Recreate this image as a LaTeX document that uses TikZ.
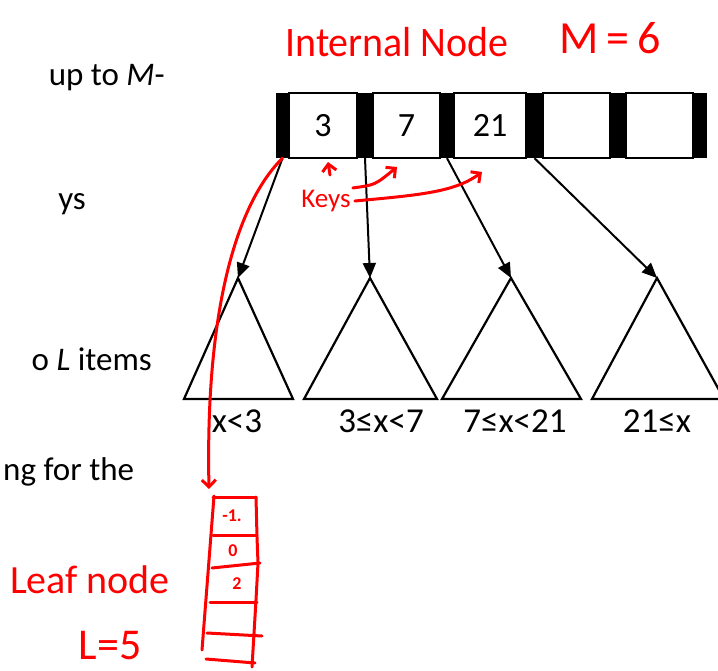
\documentclass[tikz,border=0pt]{standalone}
\usepackage{fontspec}
\setmainfont{Carlito}
\usetikzlibrary{arrows.meta}
\begin{document}
\begin{tikzpicture}[x=1pt,y=-1pt,
  barbox/.style={fill=black,inner sep=0pt,minimum height=65pt},
  cellbox/.style={draw=black,line width=1.5pt,inner sep=0pt,minimum height=65pt,font=\fontsize{34}{34}\selectfont},
  tri/.style={draw=black,line width=2.2pt,line join=miter},
  ptr/.style={-{Triangle[length=15pt,width=13pt]},line width=2pt},
  pen/.style={red,line width=3pt,line cap=round,line join=round},
  penarrow/.style={pen,-{Straight Barb[length=7pt,width=14pt,line width=3pt]}},
  lab/.style={font=\fontsize{35}{35}\selectfont,inner sep=0pt},
  slide/.style={font=\fontsize{33}{33}\selectfont,inner sep=0pt},
  hand/.style={red,inner sep=0pt},
]
\useasboundingbox (0,0) rectangle (718,671);
% slide text fragments
\node[slide,anchor=base east] (s1) at (165,86) {up to \textit{M}-};
\node[slide,anchor=base east] (s2) at (86,210) {ys};
\node[slide,anchor=base east] (s3) at (152,370) {o \textit{L} items};
\node[slide,anchor=base west] (s4) at (3,480) {ng for the};
% internal node
\node[cellbox,minimum width=68pt] (k1) at (323,125.5) {3};
\node[cellbox,minimum width=67pt] (k2) at (406.5,125.5) {7};
\node[cellbox,minimum width=72pt] (k3) at (490,125.5) {21};
\node[cellbox,minimum width=67pt] (k4) at (576.5,125.5) {};
\node[cellbox,minimum width=67pt] (k5) at (659.5,125.5) {};
\node[barbox,minimum width=13pt] (b1) at (282.5,125.5) {};
\node[barbox,minimum width=16pt] (b2) at (365,125.5) {};
\node[barbox,minimum width=14pt] (b3) at (447,125.5) {};
\node[barbox,minimum width=17pt] (b4) at (534.5,125.5) {};
\node[barbox,minimum width=16pt] (b5) at (618,125.5) {};
\node[barbox,minimum width=14pt] (b6) at (700,125.5) {};
% subtrees
\coordinate (t1) at (238,278);
\coordinate (t2) at (370,278);
\coordinate (t3) at (511,278);
\coordinate (t4) at (657,278);
\draw[tri] (t1) -- (184,399) -- (293,399) -- cycle;
\draw[tri] (t2) -- (304,399) -- (437,399) -- cycle;
\draw[tri] (t3) -- (442,399) -- (581,399) -- cycle;
\draw[tri] (t4) -- (592,399) -- (724,399) -- cycle;
\draw[ptr] (b1.south) -- (t1);
\draw[ptr] (b2.south) -- (t2);
\draw[ptr] (b3.south) -- (t3);
\draw[ptr] (b4.south) -- (t4);
\node[lab] (l1) at (237,421) {x<3};
\node[lab] (l2) at (381,421) {3≤x<7};
\node[lab] (l3) at (515,421) {7≤x<21};
\node[lab] (l4) at (657,421) {21≤x};
% red annotations
\node[hand,font=\fontsize{42}{42}\selectfont,xscale=0.95] (title) at (397,42) {Internal Node};
\node[hand,font=\fontsize{46}{46}\selectfont] (mval) at (610,38) {M\,=\,6};
\node[hand,font=\fontsize{27}{27}\selectfont] (keys) at (326,201) {Keys};
\coordinate (a1) at (328,162);
\coordinate (a2) at (397,167);
\coordinate (a3) at (482,172);
\draw[penarrow] (330,175) -- (a1);
\draw[penarrow] (keys.north east) ++(2,-2) .. controls (375,185) .. (a2);
\draw[penarrow] (keys.east) ++(4,0) .. controls (420,195) and (455,192) .. (a3);
% leaf node
\coordinate (lf) at (209,489);
\draw[penarrow] (b1.south) .. controls (240,200) and (205,300) .. (lf);
\draw[pen] (213,497) -- (256,497);
\draw[pen] (214,496) -- (202,650);
\draw[pen] (256,497) -- (257,537) -- (258,563) -- (256,600) -- (252,667);
\draw[pen] (213,535) -- (257,535);
\draw[pen] (212,568) -- (260,563);
\draw[pen] (210,602) -- (257,602);
\draw[pen] (207,633) -- (262,636);
\draw[pen] (206,659) -- (255,663);
\node[hand,font=\bfseries\fontsize{18}{18}\selectfont] (v1) at (232,516) {-1.};
\node[hand,font=\bfseries\fontsize{18}{18}\selectfont] (v2) at (233,551) {0};
\node[hand,font=\bfseries\fontsize{18}{18}\selectfont] (v3) at (237,584) {2};
\node[hand,font=\fontsize{40}{40}\selectfont] (leafname) at (90,580) {Leaf node};
\node[hand,font=\fontsize{44}{44}\selectfont] (lval) at (110,646) {L=5};
\end{tikzpicture}
\end{document}
